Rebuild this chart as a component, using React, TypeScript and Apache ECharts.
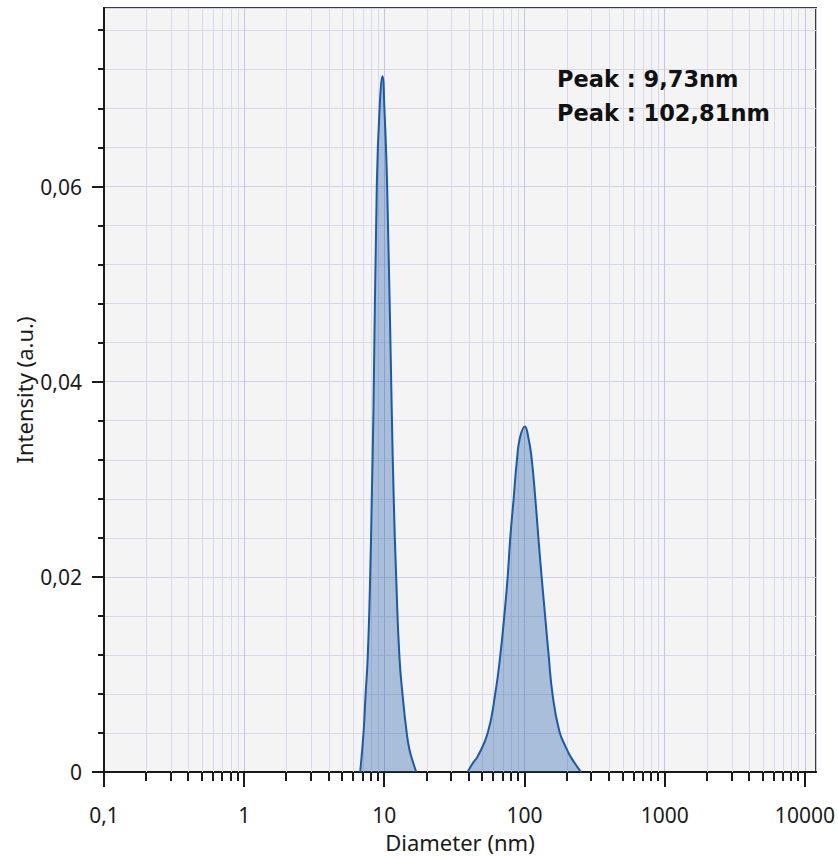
import React, { useEffect, useRef } from "react";
import * as echarts from "echarts";

// ---- Data ----
const peak1Diameter = [6.72, 7.1, 7.33, 7.61, 7.92, 8.13, 8.36, 8.83, 9.23, 9.7, 10.02, 10.47, 11.29, 11.67, 12.14, 12.81, 13.53, 14.44, 15.1, 16.1, 16.9];
const peak1Intensity = [0, 0.004, 0.0077, 0.0118, 0.02, 0.0279, 0.0371, 0.06, 0.0678, 0.0713, 0.0678, 0.06, 0.0371, 0.0279, 0.02, 0.0118, 0.0077, 0.004, 0.0023, 0.0009, 0];

const peak2Diameter = [39.3, 42.7, 46.3, 54.6, 61.6, 67.2, 71.8, 75.8, 79.2, 83.6, 88.4, 92.9, 100.5, 106.4, 112.4, 119.4, 125.4, 132.4, 140.0, 148.5, 158.6, 177.0, 197.6, 214.5, 252.8];
const peak2Intensity = [0, 0.0009, 0.0016, 0.004, 0.0079, 0.012, 0.0161, 0.02, 0.0241, 0.028, 0.0321, 0.0343, 0.0354, 0.0343, 0.0321, 0.028, 0.0241, 0.02, 0.0161, 0.012, 0.0079, 0.0042, 0.0025, 0.0015, 0];

const xTickValues = [0.1, 1, 10, 100, 1000, 10000];
const xMinorMultipliers = [2, 3, 4, 5, 6, 7, 8, 9];
const yTickValues = [0, 0.02, 0.04, 0.06];
const yMinorStep = 0.004;

const peakLabels = ["Peak : 9,73nm", "Peak : 102,81nm"];

const X_MIN = 0.1;
const X_MAX = 12000;
const Y_MAX = 0.0783;

const FONT = "'Noto Sans', 'Open Sans', sans-serif";
const BOLD_FONT = "'DejaVu Sans', 'Noto Sans', sans-serif";
const TEXT_COLOR = "#1a1a1a";

const xMinorValues: number[] = [];
xTickValues.forEach((d) => {
  xMinorMultipliers.forEach((m) => {
    const v = d * m;
    if (v < X_MAX) xMinorValues.push(v);
  });
});
const yMinorValues: number[] = [];
for (let i = 1; i * yMinorStep < Y_MAX; i++) {
  const v = Math.round(i * yMinorStep * 10000) / 10000;
  if (!yTickValues.some((t) => Math.abs(t - v) < 1e-9)) yMinorValues.push(v);
}

const fmt = (v: number) => String(v).replace(".", ",");

export default function App() {
  const ref = useRef<HTMLDivElement>(null);

  useEffect(() => {
    if (!ref.current) return;
    const chart = echarts.init(ref.current, undefined, { renderer: "svg" });

    const gridRender = (_params: any, api: any) => {
      const top = api.coord([1, Y_MAX])[1];
      const bottom = api.coord([1, 0])[1];
      const children: any[] = [];
      xMinorValues.forEach((v) => {
        const x = Math.round(api.coord([v, 0])[0]) + 0.5;
        children.push({
          type: "line",
          shape: { x1: x, y1: top, x2: x, y2: bottom },
          style: { stroke: "#d9d9ee", lineWidth: 1 },
        });
      });
      return { type: "group", children };
    };

    const tickRender = (_params: any, api: any) => {
      const bottom = api.coord([1, 0])[1];
      const left = api.coord([X_MIN, 0])[0];
      const children: any[] = [];
      const st = { stroke: "#1a1a1a", lineWidth: 2 };
      xTickValues.forEach((v) => {
        const x = Math.round(api.coord([v, 0])[0]);
        children.push({ type: "line", shape: { x1: x, y1: bottom, x2: x, y2: bottom + 15 }, style: st });
      });
      xMinorValues.forEach((v) => {
        const x = Math.round(api.coord([v, 0])[0]);
        children.push({ type: "line", shape: { x1: x, y1: bottom, x2: x, y2: bottom + 9 }, style: st });
      });
      yTickValues.forEach((v) => {
        const y = Math.round(api.coord([1, v])[1]);
        children.push({ type: "line", shape: { x1: left - 12, y1: y, x2: left, y2: y }, style: st });
      });
      yMinorValues.forEach((v) => {
        const y = Math.round(api.coord([1, v])[1]);
        children.push({ type: "line", shape: { x1: left - 6, y1: y, x2: left, y2: y }, style: st });
      });
      return { type: "group", children };
    };

    const areaSeries = (name: string, xs: number[], ys: number[]) => ({
      name,
      type: "line",
      data: xs.map((x, i) => [x, ys[i]]),
      smooth: 0.5,
      symbol: "none",
      z: 2,
      lineStyle: { color: "#1a5aa6", width: 2 },
      areaStyle: { color: "rgba(30,90,165,0.5)", origin: "start" },
    });

    chart.setOption({
      animation: false,
      grid: {
        left: 104,
        top: 8,
        width: 712,
        height: 764,
        show: true,
        backgroundColor: "#f4f4f4",
        borderColor: "#3c3c3c",
        borderWidth: 2,
      },
      xAxis: {
        type: "log",
        logBase: 10,
        min: X_MIN,
        max: X_MAX,
        name: "Diameter (nm)",
        nameLocation: "middle",
        nameGap: 59,
        nameTextStyle: { fontFamily: FONT, fontSize: 22, color: TEXT_COLOR },
        axisLine: { show: true, onZero: false, lineStyle: { color: "#1a1a1a", width: 2 } },
        axisTick: { show: false },
        axisLabel: {
          fontFamily: FONT,
          fontSize: 21,
          color: TEXT_COLOR,
          margin: 32,
          showMaxLabel: false,
          formatter: (v: number) => (xTickValues.some((t) => Math.abs(t - v) / t < 1e-6) ? fmt(v) : ""),
        },
        splitLine: { show: true, lineStyle: { color: "#c6c6e4", width: 1 } },
      },
      yAxis: {
        type: "value",
        min: 0,
        max: Y_MAX,
        interval: 0.02,
        name: "Intensity (a.u.)",
        nameLocation: "middle",
        nameGap: 69,
        nameMoveOverlap: false,
        nameTextStyle: { fontFamily: FONT, fontSize: 22, color: TEXT_COLOR },
        axisLine: { show: true, lineStyle: { color: "#1a1a1a", width: 2 } },
        axisTick: { show: false },
        minorTick: { show: false, splitNumber: 5 },
        axisLabel: {
          fontFamily: FONT,
          fontSize: 21,
          color: TEXT_COLOR,
          margin: 22,
          showMaxLabel: false,
          formatter: (v: number) => (yTickValues.some((t) => Math.abs(t - v) < 1e-9) ? fmt(v) : ""),
        },
        splitLine: { show: true, lineStyle: { color: "#d0d0ea", width: 1 } },
        minorSplitLine: { show: true, lineStyle: { color: "#d9d9ee", width: 1 } },
      },
      graphic: [
        {
          type: "text",
          left: 557,
          top: 67,
          style: { text: peakLabels[0], fontFamily: BOLD_FONT, fontSize: 22.5, fontWeight: "bold", fill: "#111" },
          z: 10,
        },
        {
          type: "text",
          left: 557,
          top: 101,
          style: { text: peakLabels[1], fontFamily: BOLD_FONT, fontSize: 22.5, fontWeight: "bold", fill: "#111" },
          z: 10,
        },
      ],
      series: [
        {
          type: "custom",
          renderItem: gridRender,
          data: [[1, 0]],
          clip: false,
          silent: true,
          z: 1,
        },
        areaSeries("peak1", peak1Diameter, peak1Intensity),
        areaSeries("peak2", peak2Diameter, peak2Intensity),
        {
          type: "custom",
          renderItem: tickRender,
          data: [[1, 0]],
          clip: false,
          silent: true,
          z: 3,
        },
      ],
    });

    return () => chart.dispose();
  }, []);

  return (
    <div
      ref={ref}
      style={{ position: "fixed", left: 0, top: 0, width: 838, height: 858, background: "#fff" }}
    />
  );
}
